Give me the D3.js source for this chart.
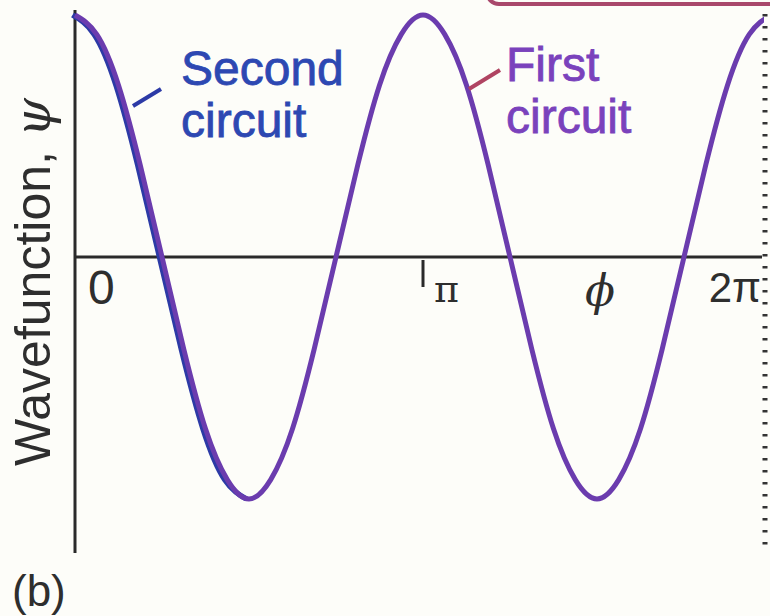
<!DOCTYPE html>
<html>
<head>
    <meta charset="utf-8" />
    <title>Wavefunction</title>
    <script src="https://cdn.jsdelivr.net/npm/d3@7"></script>
    <style>
        body { margin: 0; background: #fdfdf9; }
        svg { display: block; }
    </style>
</head>
<body>
<script>
    // phi in units of pi, psi
    var phiFirst = [0, 0.0625, 0.125, 0.1875, 0.25, 0.3125, 0.375, 0.4375, 0.5,
        0.5625, 0.625, 0.6875, 0.75, 0.8125, 0.875, 0.9375, 1,
        1.0625, 1.125, 1.1875, 1.25, 1.3125, 1.375, 1.4375, 1.5,
        1.5625, 1.625, 1.6875, 1.75, 1.8125, 1.875, 1.9375, 2];
    var psiFirst = [1, 0.92, 0.71, 0.38, 0, -0.38, -0.71, -0.92, -1,
        -0.92, -0.71, -0.38, 0, 0.38, 0.71, 0.92, 1,
        0.92, 0.71, 0.38, 0, -0.38, -0.71, -0.92, -1,
        -0.92, -0.71, -0.38, 0, 0.38, 0.71, 0.92, 1];
    var phiSecond = [0, 0.0625, 0.125, 0.1875, 0.25, 0.3125, 0.375, 0.4375, 0.5];
    var psiSecond = [1, 0.92, 0.71, 0.38, 0, -0.38, -0.71, -0.92, -1];
    var tickValues = [0, 1, 2];
    var tickLabels = ["0", "\u03c0", "2\u03c0"];

    var width = 770, height = 616;
    var svg = d3.select("body").append("svg")
        .attr("width", width)
        .attr("height", height);

    var x = d3.scaleLinear().domain([0, 2]).range([75, 771]);
    var y = d3.scaleLinear().domain([-1, 1]).range([499, 15]);

    svg.append("clipPath").attr("id", "plot")
        .append("rect")
        .attr("x", 0).attr("y", 0)
        .attr("width", 764).attr("height", height);

    // bit of the box above, cut off by the frame
    svg.append("rect")
        .attr("x", 487).attr("y", -40)
        .attr("width", 320).attr("height", 44)
        .attr("rx", 12)
        .attr("fill", "none")
        .attr("stroke", "#a9486c")
        .attr("stroke-width", 4);

    // dotted edge on the right
    svg.append("line")
        .attr("x1", 765).attr("x2", 765)
        .attr("y1", 14).attr("y2", 553)
        .attr("stroke", "#333")
        .attr("stroke-width", 5)
        .attr("stroke-dasharray", "2.5 9.5");

    // axes
    svg.append("line")
        .attr("x1", x(0)).attr("x2", 762)
        .attr("y1", y(0)).attr("y2", y(0))
        .attr("stroke", "#2a2a2a").attr("stroke-width", 3);
    svg.append("line")
        .attr("x1", x(0)).attr("x2", x(0))
        .attr("y1", 10).attr("y2", 553)
        .attr("stroke", "#2a2a2a").attr("stroke-width", 3);

    // tick at pi only
    svg.append("line")
        .attr("x1", x(1)).attr("x2", x(1))
        .attr("y1", y(0) + 3).attr("y2", y(0) + 30)
        .attr("stroke", "#2a2a2a").attr("stroke-width", 3);

    var line = d3.line()
        .x((d) => x(d[0]))
        .y((d) => y(d[1]))
        .curve(d3.curveNatural);

    var curves = svg.append("g").attr("clip-path", "url(#plot)");

    curves.append("path")
        .datum(d3.zip(phiSecond, psiSecond))
        .attr("d", line)
        .attr("transform", "translate(-2.5,0)")
        .attr("fill", "none")
        .attr("stroke", "#2c3aa6")
        .attr("stroke-width", 5.5);

    curves.append("path")
        .datum(d3.zip(phiFirst, psiFirst))
        .attr("d", line)
        .attr("fill", "none")
        .attr("stroke", "#6b3cae")
        .attr("stroke-width", 5);

    // tick labels
    var tickG = svg.append("g")
        .attr("font-family", "Liberation Sans, Arial, sans-serif")
        .attr("fill", "#2e2e2e");
    tickG.append("text")
        .attr("x", 88).attr("y", 304)
        .attr("font-size", 48)
        .text(tickLabels[0]);
    tickG.append("text")
        .attr("x", x(tickValues[1]) + 11).attr("y", 302)
        .attr("font-family", "DejaVu Serif, serif")
        .attr("font-size", 38)
        .text(tickLabels[1]);
    tickG.append("text")
        .attr("x", 761).attr("y", 302)
        .attr("text-anchor", "end")
        .attr("font-size", 42)
        .text(tickLabels[2]);

    // phi symbol
    svg.append("text")
        .attr("x", 600).attr("y", 306)
        .attr("text-anchor", "middle")
        .attr("font-family", "DejaVu Serif, serif")
        .attr("font-style", "italic")
        .attr("font-size", 44)
        .attr("fill", "#2e2e2e")
        .text("\u03d5");

    // y axis label
    var yl = svg.append("text")
        .attr("transform", "translate(50,282) rotate(-90)")
        .attr("text-anchor", "middle")
        .attr("font-family", "Liberation Sans, Arial, sans-serif")
        .attr("font-size", 50)
        .attr("fill", "#2e2e2e");
    yl.append("tspan").text("Wavefunction, ");
    yl.append("tspan")
        .attr("font-family", "DejaVu Serif, serif")
        .attr("font-style", "italic")
        .text("\u03c8");

    // curve labels
    svg.append("line")
        .attr("x1", 133).attr("y1", 106)
        .attr("x2", 161).attr("y2", 89)
        .attr("stroke", "#2c3aa6").attr("stroke-width", 4);
    var sec = svg.append("text")
        .attr("font-family", "Liberation Sans, Arial, sans-serif")
        .attr("font-size", 48)
        .attr("fill", "#2d48b2")
        .attr("stroke", "#2d48b2")
        .attr("stroke-width", 0.8);
    sec.append("tspan").attr("x", 181).attr("y", 85).text("Second");
    sec.append("tspan").attr("x", 181).attr("y", 137).text("circuit");

    svg.append("line")
        .attr("x1", 469).attr("y1", 89)
        .attr("x2", 500).attr("y2", 70)
        .attr("stroke", "#b04462").attr("stroke-width", 4);
    var fir = svg.append("text")
        .attr("font-family", "Liberation Sans, Arial, sans-serif")
        .attr("font-size", 48)
        .attr("fill", "#7a42bc")
        .attr("stroke", "#7a42bc")
        .attr("stroke-width", 0.8);
    fir.append("tspan").attr("x", 506).attr("y", 81).text("First");
    fir.append("tspan").attr("x", 506).attr("y", 133).text("circuit");

    svg.append("text")
        .attr("x", 12).attr("y", 606)
        .attr("font-family", "Liberation Sans, Arial, sans-serif")
        .attr("font-size", 44)
        .attr("fill", "#2e2e2e")
        .text("(b)");
</script>
</body>
</html>
